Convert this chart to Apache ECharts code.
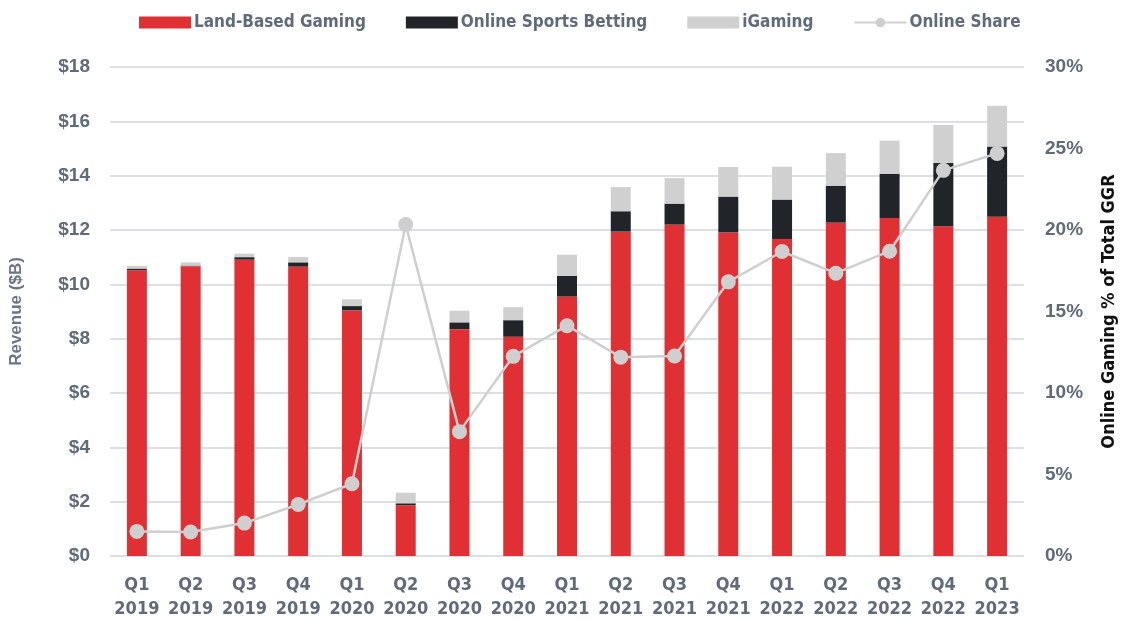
<!DOCTYPE html>
<html><head><meta charset="utf-8">
<script src="https://cdn.jsdelivr.net/npm/echarts@6/dist/echarts.min.js"></script>
<style>html,body{margin:0;padding:0;background:#fff}#c{width:1126px;height:621px}</style>
</head><body><div id="c"></div>
<script>
const categories = ['Q1\n2019','Q2\n2019','Q3\n2019','Q4\n2019','Q1\n2020','Q2\n2020','Q3\n2020','Q4\n2020','Q1\n2021','Q2\n2021','Q3\n2021','Q4\n2021','Q1\n2022','Q2\n2022','Q3\n2022','Q4\n2022','Q1\n2023'];
const landBased = [10.52,10.67,10.91,10.65,9.04,1.87,8.35,8.07,9.55,11.94,12.20,11.91,11.67,12.27,12.44,12.14,12.49];
const onlineSports = [0.06,0.02,0.09,0.16,0.16,0.07,0.25,0.61,0.76,0.75,0.77,1.32,1.45,1.36,1.63,2.33,2.58];
const iGaming = [0.10,0.12,0.13,0.20,0.25,0.39,0.43,0.48,0.78,0.89,0.94,1.09,1.21,1.20,1.22,1.40,1.50];
const onlineShare = [1.51,1.47,2.02,3.16,4.43,20.33,7.63,12.25,14.13,12.20,12.27,16.82,18.68,17.35,18.70,23.66,24.70];
const leftTicks = {min:0,max:18,interval:2};
const rightTicks = {min:0,max:30,interval:5};

const condensed = '"DejaVu Sans Condensed","Liberation Sans Narrow",sans-serif';
const txt = '#5f6b7a';
const chart = echarts.init(document.getElementById('c'));
chart.setOption({
  animation:false,
  backgroundColor:'#fff',
  legend:{
    top:9, left:134, itemGap:40, itemWidth:52, itemHeight:12,
    textStyle:{color:txt,fontFamily:condensed,fontSize:17,fontWeight:'bold',padding:[0,0,0,-2]},
    data:[{name:'Land-Based Gaming',icon:'rect'},{name:'Online Sports Betting',icon:'rect'},{name:'iGaming',icon:'rect'},{name:'Online Share'}]
  },
  grid:{left:109,right:98,top:67,bottom:64},
  xAxis:{
    type:'category', data:categories,
    axisLine:{show:false}, axisTick:{show:false},
    axisLabel:{interval:0,color:txt,fontFamily:condensed,fontSize:18,fontWeight:'bold',lineHeight:24,margin:17}
  },
  yAxis:[{
    type:'value', min:leftTicks.min, max:leftTicks.max, interval:leftTicks.interval,
    name:'Revenue ($B)', nameLocation:'middle', nameGap:85, nameRotate:90,
    nameTextStyle:{color:'#6b7585',fontFamily:'"Liberation Sans",Arial,sans-serif',fontSize:17,fontWeight:'bold'},
    axisLabel:{formatter:v=>'$'+v, color:txt, fontFamily:'"Liberation Sans",Arial,sans-serif', fontSize:19, fontWeight:'bold', margin:20},
    splitLine:{lineStyle:{color:'#dcdfe4',width:2}},
    axisLine:{show:false}, axisTick:{show:false}
  },{
    type:'value', min:rightTicks.min, max:rightTicks.max, interval:rightTicks.interval,
    name:'Online Gaming % of Total GGR', nameLocation:'middle', nameGap:76, nameRotate:90,
    nameTextStyle:{color:'#111',fontFamily:condensed,fontSize:18,fontWeight:'bold'},
    axisLabel:{formatter:v=>v+'%', color:txt, fontFamily:'"Liberation Sans",Arial,sans-serif', fontSize:19, fontWeight:'bold', margin:21},
    splitLine:{show:false}, axisLine:{show:false}, axisTick:{show:false}
  }],
  series:[
    {name:'Land-Based Gaming',type:'bar',stack:'rev',barWidth:20,data:landBased,itemStyle:{color:'#e03034'}},
    {name:'Online Sports Betting',type:'bar',stack:'rev',barWidth:20,data:onlineSports,itemStyle:{color:'#212428'}},
    {name:'iGaming',type:'bar',stack:'rev',barWidth:20,data:iGaming,itemStyle:{color:'#d0d0d0'}},
    {name:'Online Share',type:'line',yAxisIndex:1,data:onlineShare,symbol:'circle',symbolSize:15,
     lineStyle:{color:'#cfcfcf',width:2.5},itemStyle:{color:'#cfcfcf'},z:5}
  ]
});
</script></body></html>
